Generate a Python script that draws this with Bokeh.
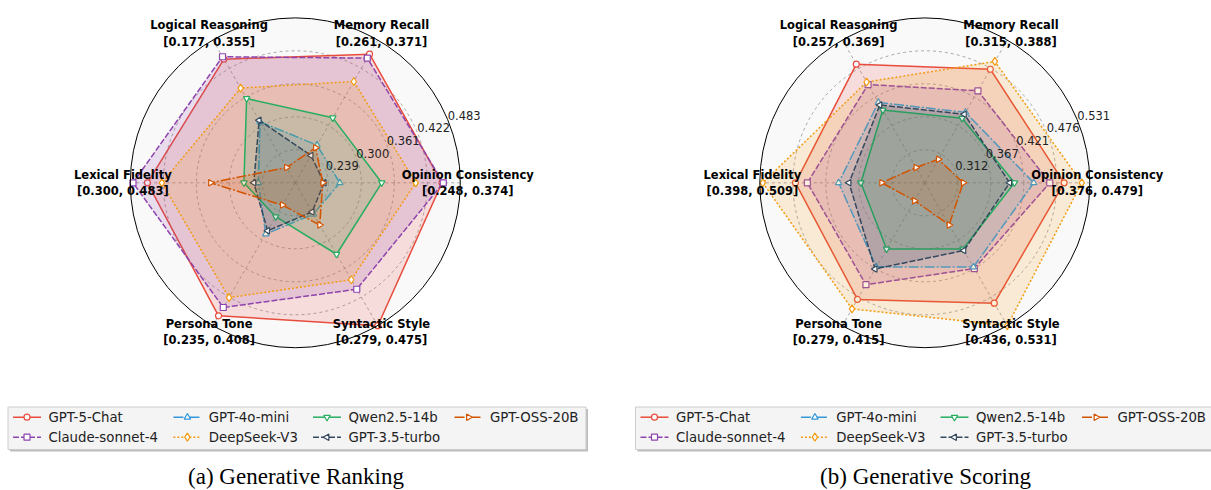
import numpy as np
from bokeh.plotting import figure
from bokeh.models import Range1d
from bokeh.core.properties import value
from bokeh.embed import file_html
from bokeh.resources import INLINE

# ---------------- data ----------------
categories = ["Opinion Consistency", "Memory Recall", "Logical Reasoning",
              "Lexical Fidelity", "Persona Tone", "Syntactic Style"]
models = ["GPT-5-Chat", "Claude-sonnet-4", "GPT-4o-mini", "DeepSeek-V3",
          "Qwen2.5-14b", "GPT-3.5-turbo", "GPT-OSS-20B"]

# (a) Generative Ranking
rank_lo = [0.248, 0.261, 0.177, 0.300, 0.235, 0.279]
rank_hi = [0.374, 0.371, 0.355, 0.483, 0.408, 0.475]
rank_ticks = ["0.239", "0.300", "0.361", "0.422", "0.483"]
rank_gpt5 = [0.360, 0.360, 0.331, 0.464, 0.396, 0.475]
rank_claude = [0.361, 0.357, 0.334, 0.480, 0.386, 0.425]
rank_gpt4o = [0.282, 0.290, 0.253, 0.341, 0.297, 0.322]
rank_deepseek = [0.340, 0.339, 0.295, 0.448, 0.374, 0.412]
rank_qwen = [0.314, 0.311, 0.282, 0.357, 0.276, 0.377]
rank_gpt35 = [0.270, 0.282, 0.255, 0.346, 0.293, 0.319]
rank_oss = [0.269, 0.288, 0.196, 0.394, 0.262, 0.337]

# (b) Generative Scoring
score_lo = [0.376, 0.315, 0.257, 0.398, 0.279, 0.436]
score_hi = [0.479, 0.388, 0.369, 0.509, 0.415, 0.531]
score_ticks = ["0.312", "0.367", "0.421", "0.476", "0.531"]
score_gpt5 = [0.463, 0.373, 0.350, 0.485, 0.390, 0.516]
score_claude = [0.454, 0.362, 0.334, 0.477, 0.376, 0.493]
score_gpt4o = [0.444, 0.351, 0.320, 0.456, 0.359, 0.492]
score_deepseek = [0.474, 0.377, 0.336, 0.507, 0.399, 0.531]
score_qwen = [0.432, 0.348, 0.314, 0.441, 0.342, 0.480]
score_gpt35 = [0.429, 0.350, 0.318, 0.449, 0.361, 0.481]
score_oss = [0.400, 0.327, 0.269, 0.427, 0.296, 0.464]

captions = ["(a) Generative Ranking", "(b) Generative Scoring"]

# ---------------- styles ----------------
colors = ["#e74c3c", "#8e44ad", "#3498db", "#f39c12", "#27ae60", "#34495e", "#d35400"]
dashes = ["solid", "6 2", "10 2 2 2", "2 2", "solid", "6 2", "10 2 2 2"]
markers = ["circle", "square", "triangle", "diamond", "inverted_triangle", "triangle", "triangle"]
msizes = [6, 6, 6.5, 8, 6.5, 6.5, 6.5]
mangles = [0, 0, 0, 0, 0, np.pi / 2, -np.pi / 2]

W, H = 1211, 490
R = 165.0
p = figure(width=W, height=H, x_range=Range1d(0, W), y_range=Range1d(0, H),
           output_backend="svg", toolbar_location=None, min_border=0)
p.axis.visible = False
p.grid.visible = False
p.outline_line_color = None
p.background_fill_color = "white"

FONT = value("DejaVu Sans")
angles = np.deg2rad(np.arange(6) * 60.0)


def Y(y_page):
    return H - y_page


def radar(cx, cy, lo, hi, series, ticks):
    lo = np.array(lo)
    hi = np.array(hi)
    # background disc
    p.circle(x=[cx], y=[cy], radius=R, fill_color="#f9f9f9", line_color=None)
    # grid circles
    for rr in [0.2, 0.4, 0.6, 0.8]:
        p.circle(x=[cx], y=[cy], radius=R * rr, fill_color=None,
                 line_color="#8a8a8a", line_width=0.8, line_dash="3 3", line_alpha=0.9)
    # spokes
    p.segment(x0=[cx] * 6, y0=[cy] * 6,
              x1=list(cx + R * np.cos(angles)), y1=list(cy + R * np.sin(angles)),
              line_color="#8a8a8a", line_width=0.8, line_dash="3 3", line_alpha=0.9)
    # series
    for i, vals in enumerate(series):
        r = (np.array(vals) - lo) / (hi - lo)
        xs = cx + R * r * np.cos(angles)
        ys = cy + R * r * np.sin(angles)
        xc = list(xs) + [xs[0]]
        yc = list(ys) + [ys[0]]
        p.patch(x=xc, y=yc, fill_color=colors[i], fill_alpha=0.16, line_color=None)
        p.line(x=xc, y=yc, line_color=colors[i], line_width=1.5, line_dash=dashes[i])
        p.scatter(x=list(xs), y=list(ys), marker=markers[i], size=msizes[i],
                  angle=mangles[i], fill_color="white", line_color=colors[i], line_width=1.2)
    # outer spine
    p.circle(x=[cx], y=[cy], radius=R, fill_color=None, line_color="black", line_width=1.0)
    # radial tick labels at 22.5 deg
    ta = np.deg2rad(22.5)
    rs = np.array([0.2, 0.4, 0.6, 0.8, 1.0])
    p.text(x=list(cx + R * rs * np.cos(ta)), y=list(cy + R * rs * np.sin(ta)), text=ticks,
           text_font=FONT, text_font_size="11.5px", text_color="#222222",
           text_align="left", text_baseline="bottom")
    # category labels
    labels = [f"{c}\n[{a:.3f}, {b:.3f}]" for c, a, b in zip(categories, lo, hi)]
    rl = 1.045
    p.text(x=list(cx + R * rl * np.cos(angles)), y=list(cy + R * rl * np.sin(angles)),
           text=labels, text_font=FONT, text_font_size="11.5px", text_font_style="bold",
           text_color="black", text_align="center", text_baseline="middle",
           text_line_height=1.15)


def legend(x0):
    top, bottom = Y(406.5), Y(449)
    rows_y = [Y(416.7), Y(436.7)]
    # shadow + box
    p.quad(left=[x0 + 2], right=[x0 + 580], top=[top - 2], bottom=[bottom - 2],
           fill_color="#bdbdbd", line_color=None)
    p.quad(left=[x0], right=[x0 + 578], top=[top], bottom=[bottom],
           fill_color="#f4f4f4", line_color="#cccccc", line_width=1)
    col_off = [5, 165.4, 305, 446.5]
    for i, name in enumerate(models):
        col = i // 2
        row = i % 2
        hx = x0 + col_off[col]
        hy = rows_y[row]
        p.line(x=[hx, hx + 28], y=[hy, hy], line_color=colors[i], line_width=1.5,
               line_dash=dashes[i])
        p.scatter(x=[hx + 14], y=[hy], marker=markers[i], size=msizes[i], angle=mangles[i],
                  fill_color="white", line_color=colors[i], line_width=1.2)
        p.text(x=[hx + 35.4], y=[hy], text=[name], text_font=FONT, text_font_size="13.3px",
               text_color="#222222", text_align="left", text_baseline="middle")


cy = Y(182.3)
radar(294.8, cy, rank_lo, rank_hi,
      [rank_gpt5, rank_claude, rank_gpt4o, rank_deepseek, rank_qwen, rank_gpt35, rank_oss],
      rank_ticks)
radar(924.3, cy, score_lo, score_hi,
      [score_gpt5, score_claude, score_gpt4o, score_deepseek, score_qwen, score_gpt35, score_oss],
      score_ticks)

legend(7.5)
legend(635)

p.text(x=[295.5, 925], y=[Y(476), Y(476)], text=captions, text_font=value("Liberation Serif"),
       text_font_size="23px", text_color="black", text_align="center", text_baseline="middle")

open("out.html", "w").write(file_html(p, INLINE))
